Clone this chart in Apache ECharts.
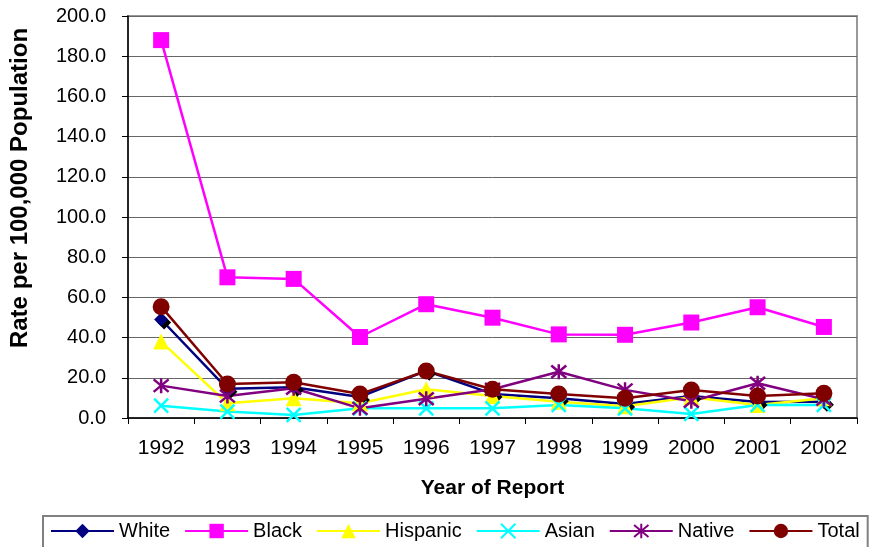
<!DOCTYPE html>
<html>
<head>
<meta charset="utf-8">
<script src="https://cdn.jsdelivr.net/npm/echarts@6/dist/echarts.min.js"></script>
<style>
  html, body { margin: 0; padding: 0; background: #fff; }
  #chart { width: 871px; height: 547px; }
</style>
</head>
<body>
<div id="chart"></div>
<script>
// years on the x axis
const years = ['1992', '1993', '1994', '1995', '1996', '1997', '1998', '1999', '2000', '2001', '2002']
// rate per 100,000 by group
const white = [49.0, 14.5, 15.3, 10.5, 23.5, 12.0, 9.8, 7.0, 11.0, 8.0, 8.1]
const black = [188.0, 70.0, 69.2, 40.3, 56.6, 49.9, 41.6, 41.4, 47.5, 55.1, 45.3]
const hispanic = [38.0, 7.3, 9.8, 7.3, 14.3, 10.9, 8.1, 5.8, 10.3, 6.5, 9.8]
const asian = [6.1, 3.2, 1.5, 4.8, 4.8, 4.8, 6.5, 4.8, 2.0, 6.5, 6.5]
const native = [16.1, 10.9, 14.8, 4.8, 9.6, 14.3, 23.0, 14.0, 8.3, 17.3, 9.3]
const total = [55.4, 16.9, 17.8, 11.9, 23.4, 14.3, 11.9, 9.8, 13.9, 10.9, 12.3]

const FONT = 'Liberation Sans, Arial, sans-serif'
const xPath = 'path://M0,0L10,10M0,10L10,0'
const starPath = 'path://M0,0L10,10M0,10L10,0M5,-1L5,11'

function mkSeries(name, data, color, symbol, size, extra) {
  return Object.assign({
    name: name,
    type: 'line',
    data: data,
    symbol: symbol,
    symbolSize: size,
    lineStyle: { color: color, width: 2.5 },
    itemStyle: { color: color, borderColor: color, borderWidth: 0 }
  }, extra || {})
}

const chart = echarts.init(document.getElementById('chart'))
const option = {
  animation: false,
  textStyle: { fontFamily: FONT },
  grid: {
    left: 127, right: 14, top: 16, bottom: 129,
    show: true, borderColor: '#999', borderWidth: 2
  },
  legend: {
    left: 43, top: 516,
    padding: [5, 8, 10, 7],
    borderColor: '#808080', borderWidth: 2,
    itemWidth: 63, itemHeight: 18, itemGap: 14,
    textStyle: { fontFamily: FONT, fontSize: 20, color: '#000' },
    data: ['White', 'Black', 'Hispanic', 'Asian', 'Native', 'Total']
  },
  xAxis: {
    type: 'category',
    data: years,
    boundaryGap: true,
    name: 'Year of Report',
    nameLocation: 'middle',
    nameGap: 60,
    nameTextStyle: { fontFamily: FONT, fontSize: 21, fontWeight: 'bold', color: '#000' },
    axisLine: { lineStyle: { color: '#000', width: 1.5 } },
    axisTick: { show: true, length: 6, lineStyle: { color: '#000' } },
    axisLabel: { fontFamily: FONT, fontSize: 21, color: '#000', margin: 20 }
  },
  yAxis: {
    type: 'value',
    min: 0, max: 200, interval: 20,
    name: 'Rate per 100,000 Population',
    nameLocation: 'middle',
    nameGap: 96,
    nameTextStyle: { fontFamily: FONT, fontSize: 24, fontWeight: 'bold', color: '#000', padding: [0, 0, 0, 58] },
    axisLine: { show: true, lineStyle: { color: '#000', width: 1.5 } },
    axisTick: { show: true, length: 6, lineStyle: { color: '#000' } },
    axisLabel: { fontFamily: FONT, fontSize: 20, color: '#000', margin: 22, formatter: v => v.toFixed(1) },
    splitLine: { lineStyle: { color: '#666', width: 1 } }
  },
  series: [
    mkSeries('White', white, '#000080', 'diamond', 14, {
      itemStyle: { color: '#000080', shadowColor: '#000', shadowOffsetX: 3, shadowOffsetY: 3, shadowBlur: 0 }
    }),
    mkSeries('Black', black, '#ff00ff', 'rect', 16),
    mkSeries('Hispanic', hispanic, '#ffff00', 'triangle', 16),
    mkSeries('Asian', asian, '#00ffff', xPath, 14, {
      itemStyle: { color: '#00ffff', borderColor: '#00ffff', borderWidth: 2.5 }
    }),
    mkSeries('Native', native, '#800080', starPath, 15, {
      itemStyle: { color: '#800080', borderColor: '#800080', borderWidth: 2.5 }
    }),
    mkSeries('Total', total, '#800000', 'circle', 17)
  ]
}
chart.setOption(option)
</script>
</body>
</html>
